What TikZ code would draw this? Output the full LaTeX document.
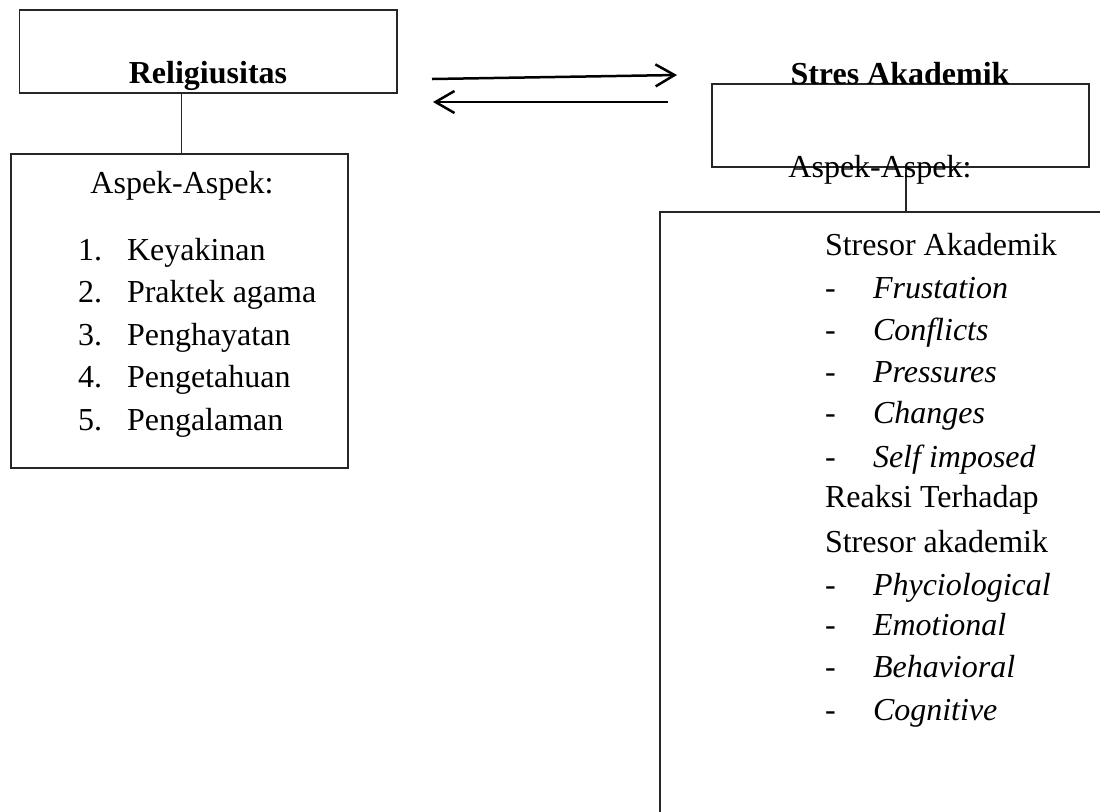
\documentclass[tikz,border=0pt]{standalone}
\usepackage{fontspec}
\setmainfont{Liberation Serif}
\usetikzlibrary{arrows.meta}
\begin{document}
\begin{tikzpicture}[x=0.5pt,y=-0.5pt,
  boxnode/.style={draw=black!85, line width=0.65pt, inner sep=0pt, outer sep=0pt, rectangle},
  txt/.style={inner sep=0pt, outer sep=0pt, font=\fontsize{16}{19}\selectfont},
  btxt/.style={txt, font=\fontsize{16}{19}\selectfont\bfseries},
  itxt/.style={txt, font=\fontsize{16}{19}\selectfont\itshape},
  conn/.style={draw=black!85, line width=0.65pt},
  arr/.style={line width=1.25pt, -{Straight Barb[length=9.5pt,width=11pt,line width=1.25pt]}}]
\useasboundingbox (0,0) rectangle (1100,811);
% boxes
\node[boxnode, minimum width=188.75pt, minimum height=41.5pt] (rel) at (208.25,51.5) {};
\node[boxnode, minimum width=168.5pt, minimum height=157pt] (asp) at (179.5,311) {};
\node[boxnode, minimum width=188.5pt, minimum height=41.5pt] (sbox) at (900.5,125.5) {};
\node[boxnode, minimum width=230pt, minimum height=309pt] (big) at (890,521) {};
% connectors
\draw[conn] ([xshift=1pt]asp.north) -- ([xshift=1pt]asp.north |- rel.south);
\draw[conn] ([xshift=2.75pt]sbox.south) -- ([xshift=2.75pt]sbox.south |- big.north);
% arrows
\coordinate (a1s) at (432,79);
\coordinate (a1e) at (677,75);
\coordinate (a2s) at (668,102);
\coordinate (a2e) at (433,102);
\draw[arr] (a1s) -- (a1e);
\draw[arr] (a2s) -- (a2e);
% titles
\node[btxt, anchor=base] (relt) at (208,83) {Religiusitas};
\node[btxt, anchor=base] (sat) at (900,84) {Stres Akademik};
\node[txt, anchor=base] (aspt) at (182,193) {Aspek-Aspek:};
\node[txt, anchor=base] (sasp) at (880,177) {Aspek-Aspek:};
% left list
\foreach \n/\t/\y in {1/Keyakinan/260, 2/Praktek agama/302, 3/Penghayatan/345, 4/Pengetahuan/387, 5/Pengalaman/430}{
  \node[txt, anchor=base west] (ln\n) at (78,\y) {\n.};
  \node[txt, anchor=base west] (lt\n) at (127,\y) {\t};
}
% right list
\node[txt, anchor=base west] (h1) at (825,255) {Stresor Akademik};
\foreach \n/\t/\y in {1/Frustation/298, 2/Conflicts/340, 3/Pressures/382, 4/Changes/423, 5/Self imposed/467}{
  \node[txt, anchor=base west] (ad\n) at (825,\y) {-};
  \node[itxt, anchor=base west] (at\n) at (873,\y) {\t};
}
\node[txt, anchor=base west] (h2) at (825,507) {Reaksi Terhadap};
\node[txt, anchor=base west] (h3) at (825,552) {Stresor akademik};
\foreach \n/\t/\y in {1/Phyciological/595, 2/Emotional/635, 3/Behavioral/677, 4/Cognitive/720}{
  \node[txt, anchor=base west] (bd\n) at (825,\y) {-};
  \node[itxt, anchor=base west] (bt\n) at (873,\y) {\t};
}
\end{tikzpicture}
\end{document}
